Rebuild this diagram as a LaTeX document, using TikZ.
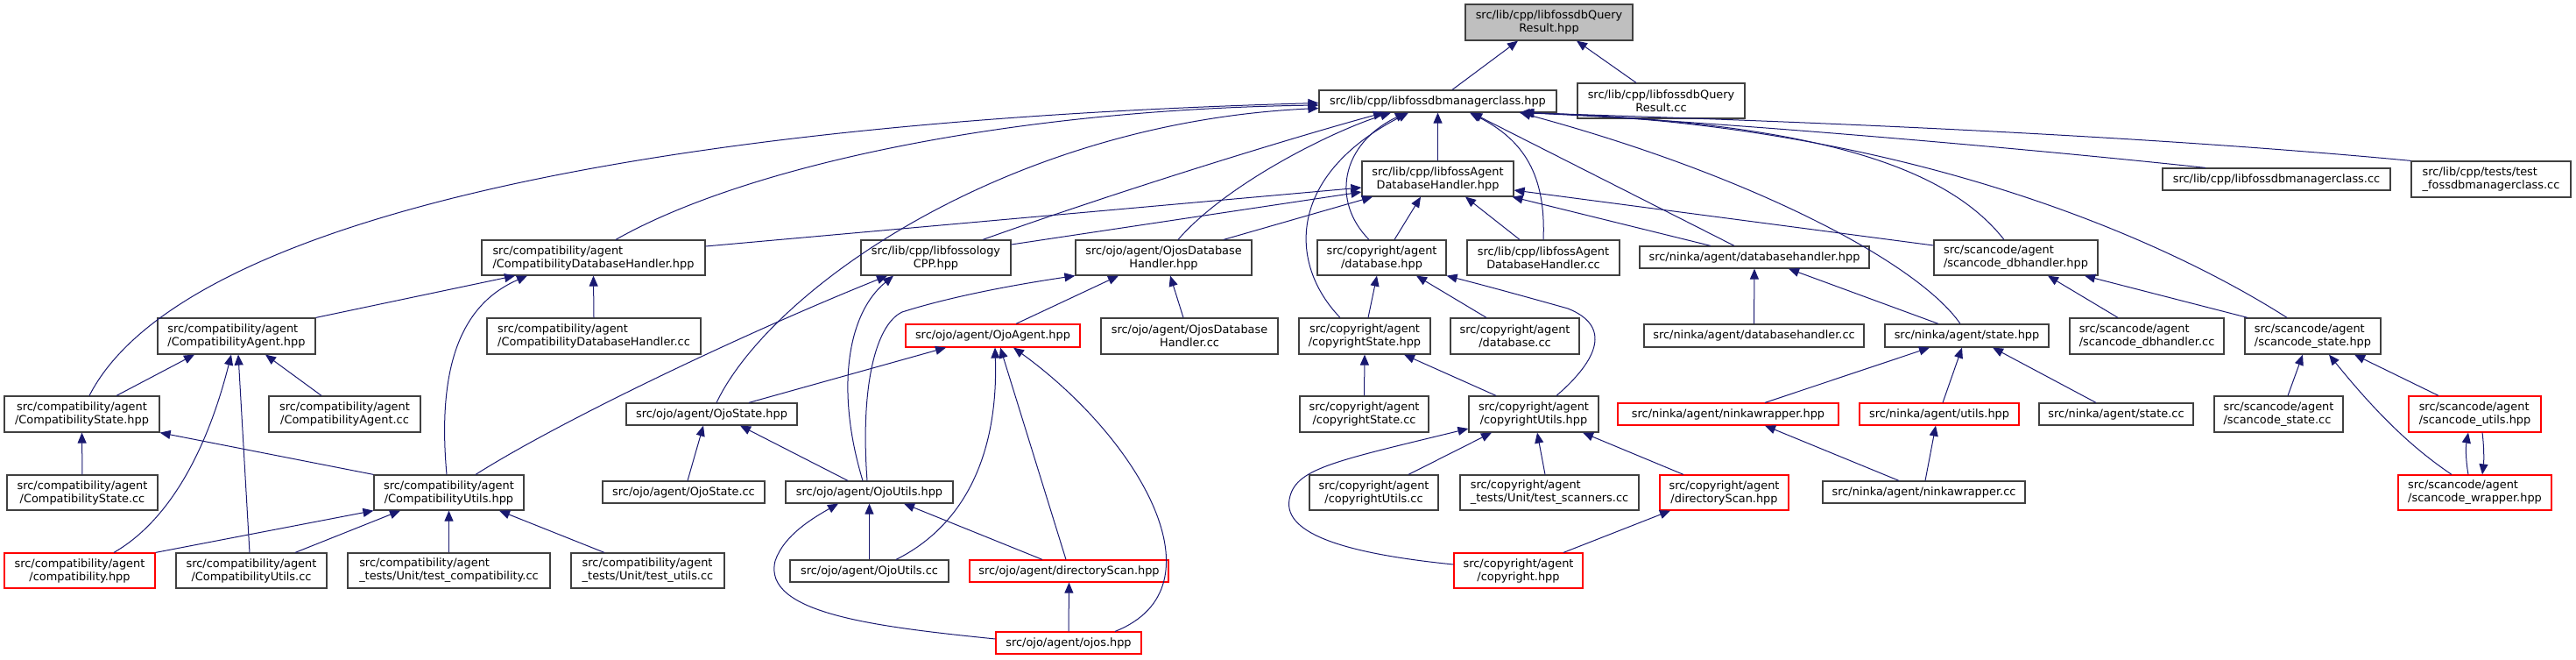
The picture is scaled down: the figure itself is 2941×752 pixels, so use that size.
\documentclass[tikz,border=0pt]{standalone}
\usepackage{fontspec}
\setmainfont{DejaVu Sans}
\usetikzlibrary{arrows.meta}
\definecolor{edgeblue}{HTML}{191970}
\definecolor{boxgray}{HTML}{404040}
\definecolor{rootfill}{HTML}{BFBFBF}
\definecolor{redline}{HTML}{FF0000}
\tikzset{
  box/.style={draw=boxgray, line width=1.2pt, fill=white, inner sep=0pt, text=black,
    font=\fontsize{12.9}{15}\selectfont, align=center},
  lbox/.style={box, align=left},
  redbox/.style={draw=redline},
  rootbox/.style={fill=rootfill},
  wh/.style 2 args={minimum width=#1pt, minimum height=#2pt},
  edge/.style={draw=edgeblue, line width=1pt, -{Triangle[length=12pt,width=10pt]}},
}
\begin{document}
\begin{tikzpicture}[x=1pt,y=-1pt]
\useasboundingbox (0,0) rectangle (2941,752);
% row 0-2
\node[box,rootbox,wh={191}{41}] (root) at (1768.5,25.5) {src/lib/cpp/libfossdbQuery\\Result.hpp};
\node[box,wh={271}{25}] (M) at (1641.5,115.5) {src/lib/cpp/libfossdbmanagerclass.hpp};
\node[box,wh={191}{40}] (QRcc) at (1896.5,115) {src/lib/cpp/libfossdbQuery\\Result.cc};
\node[box,wh={173}{40}] (AH) at (1641.5,204) {src/lib/cpp/libfossAgent\\DatabaseHandler.hpp};
\node[box,wh={260}{25}] (Mcc) at (2599,204.5) {src/lib/cpp/libfossdbmanagerclass.cc};
\node[lbox,wh={182}{41}] (Mtest) at (2844,204.5) {src/lib/cpp/tests/test\\\_fossdbmanagerclass.cc};
% row 3
\node[lbox,wh={255}{40}] (CDH) at (677.5,294) {src/compatibility/agent\\/CompatibilityDatabaseHandler.hpp};
\node[box,wh={171}{40}] (LCPP) at (1068.5,294) {src/lib/cpp/libfossology\\CPP.hpp};
\node[box,wh={201}{40}] (ODH) at (1328.5,294) {src/ojo/agent/OjosDatabase\\Handler.hpp};
\node[box,wh={147}{40}] (CDB) at (1577.5,294) {src/copyright/agent\\/database.hpp};
\node[box,wh={174}{40}] (AHcc) at (1762,294) {src/lib/cpp/libfossAgent\\DatabaseHandler.cc};
\node[box,wh={262}{25}] (NDH) at (2003,293.5) {src/ninka/agent/databasehandler.hpp};
\node[lbox,wh={187}{40}] (SDH) at (2301.5,294) {src/scancode/agent\\/scancode\_dbhandler.hpp};
% row 4
\node[lbox,wh={180}{41}] (CA) at (270,383.5) {src/compatibility/agent\\/CompatibilityAgent.hpp};
\node[lbox,wh={244}{41}] (CDHcc) at (678,383.5) {src/compatibility/agent\\/CompatibilityDatabaseHandler.cc};
\node[box,redbox,wh={199}{26}] (OA) at (1133.5,383) {src/ojo/agent/OjoAgent.hpp};
\node[box,wh={202}{41}] (ODHcc) at (1358,383.5) {src/ojo/agent/OjosDatabase\\Handler.cc};
\node[box,wh={150}{41}] (CST) at (1558,383.5) {src/copyright/agent\\/copyrightState.hpp};
\node[box,wh={147}{41}] (CDBcc) at (1729.5,383.5) {src/copyright/agent\\/database.cc};
\node[box,wh={251}{26}] (NDHcc) at (2002.5,383) {src/ninka/agent/databasehandler.cc};
\node[box,wh={187}{26}] (NST) at (2245.5,383) {src/ninka/agent/state.hpp};
\node[lbox,wh={176}{41}] (SDHcc) at (2451,383.5) {src/scancode/agent\\/scancode\_dbhandler.cc};
\node[lbox,wh={155}{41}] (SST) at (2640.5,383.5) {src/scancode/agent\\/scancode\_state.hpp};
% row 5
\node[box,wh={177}{41}] (CS) at (93.5,472.5) {src/compatibility/agent\\/CompatibilityState.hpp};
\node[box,wh={173}{41}] (CAcc) at (393.5,472.5) {src/compatibility/agent\\/CompatibilityAgent.cc};
\node[box,wh={195}{25}] (OS) at (812.5,472.5) {src/ojo/agent/OjoState.hpp};
\node[box,wh={147}{41}] (CSTcc) at (1557.5,472.5) {src/copyright/agent\\/copyrightState.cc};
\node[box,wh={148}{41}] (CUcr) at (1751,472.5) {src/copyright/agent\\/copyrightUtils.hpp};
\node[box,redbox,wh={252}{25}] (NW) at (1973,472.5) {src/ninka/agent/ninkawrapper.hpp};
\node[box,redbox,wh={182}{25}] (NU) at (2214,472.5) {src/ninka/agent/utils.hpp};
\node[box,wh={176}{25}] (NSTcc) at (2416,472.5) {src/ninka/agent/state.cc};
\node[lbox,wh={147}{41}] (SSTcc) at (2601.5,472.5) {src/scancode/agent\\/scancode\_state.cc};
\node[lbox,redbox,wh={151}{41}] (SU) at (2825.5,472.5) {src/scancode/agent\\/scancode\_utils.hpp};
% row 6
\node[box,wh={172}{40}] (CScc) at (94,562) {src/compatibility/agent\\/CompatibilityState.cc};
\node[box,wh={171}{40}] (CU) at (512.5,562) {src/compatibility/agent\\/CompatibilityUtils.hpp};
\node[box,wh={185}{25}] (OScc) at (780.5,561.5) {src/ojo/agent/OjoState.cc};
\node[box,wh={191}{25}] (OU) at (992.5,561.5) {src/ojo/agent/OjoUtils.hpp};
\node[box,wh={147}{40}] (CUcc) at (1568.5,562) {src/copyright/agent\\/copyrightUtils.cc};
\node[lbox,wh={204}{40}] (TS) at (1769,562) {src/copyright/agent\\\_tests/Unit/test\_scanners.cc};
\node[box,redbox,wh={147}{40}] (CDS) at (1968.5,562) {src/copyright/agent\\/directoryScan.hpp};
\node[box,wh={231}{25}] (NWcc) at (2196.5,561.5) {src/ninka/agent/ninkawrapper.cc};
\node[lbox,redbox,wh={175}{40}] (SW) at (2825.5,562) {src/scancode/agent\\/scancode\_wrapper.hpp};
% row 7-8
\node[box,redbox,wh={172}{40}] (COMP) at (91,651) {src/compatibility/agent\\/compatibility.hpp};
\node[box,wh={172}{40}] (CUTcc) at (287,651) {src/compatibility/agent\\/CompatibilityUtils.cc};
\node[lbox,wh={231}{40}] (TC) at (512.5,651) {src/compatibility/agent\\\_tests/Unit/test\_compatibility.cc};
\node[lbox,wh={175}{40}] (TU) at (739.5,651) {src/compatibility/agent\\\_tests/Unit/test\_utils.cc};
\node[box,wh={181}{25}] (OUcc) at (992.5,651.5) {src/ojo/agent/OjoUtils.cc};
\node[box,redbox,wh={227}{25}] (ODS) at (1220.5,651.5) {src/ojo/agent/directoryScan.hpp};
\node[box,redbox,wh={147}{40}] (CR) at (1733.5,651) {src/copyright/agent\\/copyright.hpp};
\node[box,redbox,wh={166}{25}] (OJ) at (1220,733.5) {src/ojo/agent/ojos.hpp};

% edges to root and M
\draw[edge] ([xshift=16.5pt]M.north) -- ([xshift=-35.5pt]root.south);
\draw[edge] ([xshift=-28.5pt]QRcc.north) -- ([xshift=31.5pt]root.south);
\draw[edge] (AH.north) -- (M.south);
\draw[edge] ([xshift=-81pt]Mcc.north) .. controls (2300,168) and (1950,138) .. ([xshift=97pt]M.south);
\draw[edge] (Mtest.north west) .. controls (2400,150) and (1950,135) .. ([xshift=93pt]M.south);
\draw[edge] ([xshift=25.5pt]CDH.north) .. controls (850,190) and (1150,125) .. ([yshift=-4.5pt]M.west);
\draw[edge] ([xshift=53.5pt]LCPP.north) .. controls (1300,210) and (1500,150) .. ([xshift=-61.5pt]M.south);
\draw[edge] ([xshift=16.5pt]ODH.north) .. controls (1400,210) and (1520,150) .. ([xshift=-53.5pt]M.south);
\draw[edge] ([xshift=-14.5pt]CDB.north) .. controls (1520,230) and (1530,165) .. ([xshift=-36.5pt]M.south);
\draw[edge] (AHcc.north) .. controls (1765,200) and (1740,160) .. ([xshift=36.5pt]M.south);
\draw[edge] ([xshift=-23pt]NDH.north) -- ([xshift=38.5pt]M.south);
\draw[edge] ([xshift=-13.5pt]SDH.north) .. controls (2230,200) and (2100,140) .. ([xshift=98pt]M.south);
\draw[edge] ([xshift=-29.5pt]SST.north) .. controls (2450,260) and (2150,140) .. ([xshift=96pt]M.south);
\draw[edge] ([xshift=-7.5pt]NST.north) .. controls (2190,300) and (2000,200) .. ([xshift=94pt]M.south);
\draw[edge] ([xshift=8.5pt]CS.north) .. controls (200,260) and (700,140) .. ([yshift=-2pt]M.west);
\draw[edge] ([xshift=5.5pt]OS.north) .. controls (880,330) and (1150,140) .. ([yshift=-8pt]M.west);
\draw[edge] ([xshift=-28pt]CST.north) .. controls (1470,300) and (1470,200) .. ([xshift=-33.5pt]M.south);
% edges to AH
\draw[edge] ([yshift=13pt]CDH.east) -- ([yshift=-10pt]AH.west);
\draw[edge] ([yshift=15pt]LCPP.east) -- ([yshift=-15pt]AH.west);
\draw[edge] ([xshift=68.5pt]ODH.north) -- ([xshift=-74.5pt]AH.south);
\draw[edge] ([xshift=14.5pt]CDB.north) -- ([xshift=-19.5pt]AH.south);
\draw[edge] ([xshift=-27pt]AHcc.north) -- ([xshift=31.5pt]AH.south);
\draw[edge] ([xshift=-50pt]NDH.north) -- ([xshift=85pt]AH.south);
\draw[edge] ([yshift=14pt]SDH.west) -- ([yshift=-13pt]AH.east);
% compatibility
\draw[edge] (CA.north east) -- ([xshift=-89.5pt]CDH.south);
\draw[edge] (CDHcc.north) -- (CDH.south);
\draw[edge] ([xshift=-2.5pt]CU.north) .. controls (500,430) and (520,350) .. ([xshift=-75.5pt]CDH.south);
\draw[edge] ([xshift=30.5pt]CU.north) .. controls (640,480) and (850,380) .. ([xshift=-55.5pt]LCPP.south);
\draw[edge] ([xshift=39.5pt]CS.north) -- ([xshift=-48pt]CA.south);
\draw[edge] ([xshift=-26.5pt]CAcc.north) -- ([xshift=33pt]CA.south);
\draw[edge] ([xshift=39pt]COMP.north) .. controls (200,590) and (240,500) .. ([xshift=-6pt]CA.south);
\draw[edge] ([xshift=-2pt]CUTcc.north) -- ([xshift=2pt]CA.south);
\draw[edge] (CScc.north) -- (CS.south);
\draw[edge] (CU.north west) -- (CS.south east);
\draw[edge] (COMP.north east) -- (CU.south west);
\draw[edge] ([xshift=50pt]CUTcc.north) -- ([xshift=-55.5pt]CU.south);
\draw[edge] (TC.north) -- (CU.south);
\draw[edge] ([xshift=-49.5pt]TU.north) -- ([xshift=57.5pt]CU.south);
% ojo
\draw[edge] ([xshift=-7.5pt]OU.north) .. controls (955,450) and (965,360) .. ([xshift=-48.5pt]LCPP.south);
\draw[edge] ([xshift=-2.5pt]OU.north) .. controls (982,440) and (1000,370) .. (1030,356) .. controls (1080,340) and (1150,326) .. (ODH.south west);
\draw[edge] ([xshift=26.5pt]OA.north) -- ([xshift=-51.5pt]ODH.south);
\draw[edge] ([xshift=-7pt]ODHcc.north) -- ([xshift=7.5pt]ODH.south);
\draw[edge] ([xshift=42.5pt]OS.north) -- ([xshift=-53.5pt]OA.south);
\draw[edge] ([xshift=30.5pt]OUcc.north) .. controls (1100,600) and (1140,520) .. ([xshift=2.5pt]OA.south);
\draw[edge] ([xshift=-3.5pt]ODS.north) -- ([xshift=8.5pt]OA.south);
\draw[edge] ([xshift=53pt]OJ.north) .. controls (1400,670) and (1300,500) .. ([xshift=23.5pt]OA.south);
\draw[edge] (OUcc.north) -- (OU.south);
\draw[edge] ([xshift=-30.5pt]ODS.north) -- ([xshift=39.5pt]OU.south);
\draw[edge] ([yshift=4.5pt]OJ.west) .. controls (1000,715) and (870,700) .. (885,640) .. controls (895,610) and (930,590) .. ([xshift=-35.5pt]OU.south);
\draw[edge] ([xshift=4.5pt]OScc.north) -- ([xshift=-9.5pt]OS.south);
\draw[edge] ([xshift=-24.5pt]OU.north) -- ([xshift=32.5pt]OS.south);
\draw[edge] (OJ.north) -- (ODS.south);
% copyright
\draw[edge] ([xshift=4pt]CST.north) -- ([xshift=-5.5pt]CDB.south);
\draw[edge] ([xshift=-32.5pt]CDBcc.north) -- ([xshift=39.5pt]CDB.south);
\draw[edge] ([xshift=26pt]CUcr.north) .. controls (1825,410) and (1840,372) .. (1790,352) .. controls (1740,338) and (1700,327) .. (CDB.south east);
\draw[edge] (CSTcc.north) -- (CST.south);
\draw[edge] ([xshift=-43pt]CUcr.north) -- ([xshift=45pt]CST.south);
\draw[edge] ([xshift=39.5pt]CUcc.north) -- ([xshift=-48pt]CUcr.south);
\draw[edge] ([xshift=-5pt]TS.north) -- ([xshift=4pt]CUcr.south);
\draw[edge] ([xshift=-46.5pt]CDS.north) -- ([xshift=56pt]CUcr.south);
\draw[edge] ([yshift=7pt]CR.west) .. controls (1540,632) and (1465,610) .. (1472,570) .. controls (1478,535) and (1520,527) .. ([yshift=-16.5pt]CUcr.west);
\draw[edge] ([xshift=51.5pt]CR.north) -- ([xshift=-61.5pt]CDS.south);
% ninka
\draw[edge] (NDHcc.north) -- (NDH.south);
\draw[edge] ([xshift=-32.5pt]NST.north) -- ([xshift=39pt]NDH.south);
\draw[edge] ([xshift=42pt]NW.north) -- ([xshift=-42.5pt]NST.south);
\draw[edge] ([xshift=4pt]NU.north) -- ([xshift=-5.5pt]NST.south);
\draw[edge] ([xshift=-23pt]NSTcc.north) -- ([xshift=29.5pt]NST.south);
\draw[edge] ([xshift=-28.5pt]NWcc.north) -- ([xshift=42pt]NW.south);
\draw[edge] ([xshift=1.5pt]NWcc.north) -- ([xshift=-4pt]NU.south);
% scancode
\draw[edge] ([xshift=-33pt]SDHcc.north) -- ([xshift=36.5pt]SDH.south);
\draw[edge] ([xshift=-74.5pt]SST.north) -- ([xshift=78.5pt]SDH.south);
\draw[edge] ([xshift=10.5pt]SSTcc.north) -- ([xshift=-11.5pt]SST.south);
\draw[edge] ([xshift=-26.5pt]SW.north) .. controls (2760,515) and (2720,480) .. ([xshift=18.5pt]SST.south);
\draw[edge] ([xshift=-41.5pt]SU.north) -- ([xshift=47.5pt]SST.south);
\draw[edge] ([xshift=-7.5pt]SW.north) .. controls (2815,525) and (2815,510) .. ([xshift=-7.5pt]SU.south);
\draw[edge] ([xshift=8.5pt]SU.south) .. controls (2836,510) and (2836,525) .. ([xshift=8.5pt]SW.north);
\end{tikzpicture}
\end{document}
